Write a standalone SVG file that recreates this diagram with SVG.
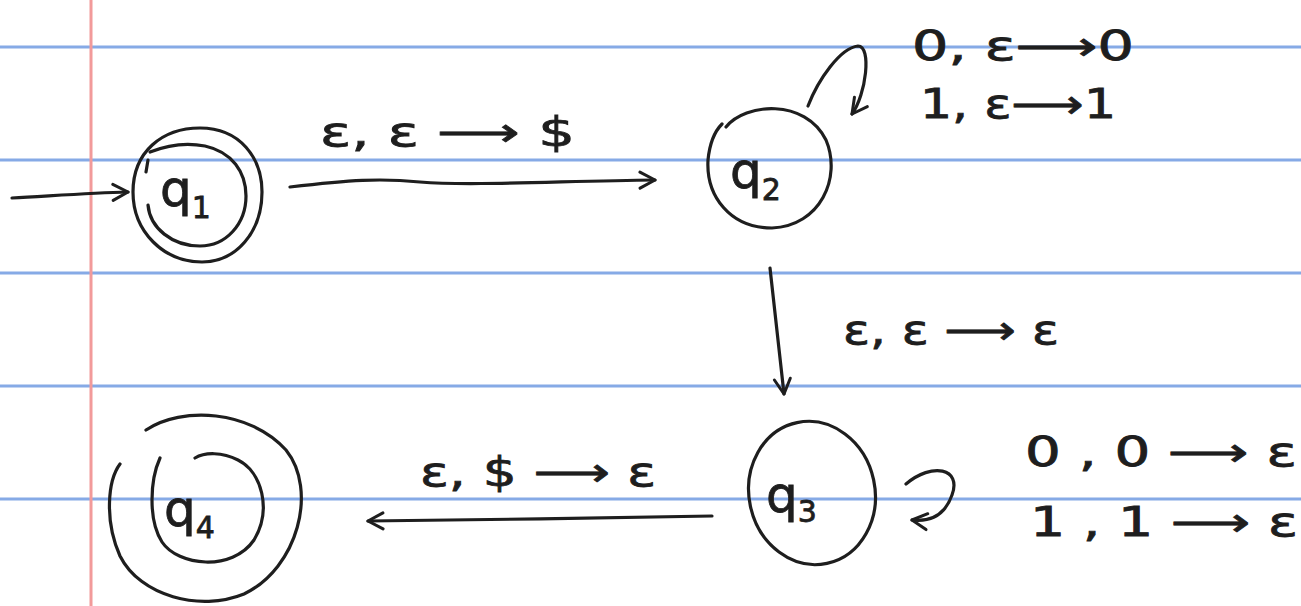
<svg xmlns="http://www.w3.org/2000/svg" width="1301" height="606" viewBox="0 0 1301 606">
<defs>
<marker id="ah" viewBox="0 0 20 20" refX="18" refY="10" markerWidth="20" markerHeight="20" markerUnits="userSpaceOnUse" orient="auto">
<path d="M3,2 L18,10 L3,18" fill="none" stroke="#1e1e1e" stroke-width="3" stroke-linecap="round" stroke-linejoin="round"/>
</marker>
<style>
.ink{fill:none;stroke:#1e1e1e;stroke-width:3.2;stroke-linecap:round;stroke-linejoin:round}
.rule{stroke:#86aae6;stroke-width:3}
.lbl{font-family:"DejaVu Sans","Liberation Sans",sans-serif;font-size:40px;fill:#1e1e1e;stroke:#1e1e1e;stroke-width:0.8}
.st{font-family:"DejaVu Sans","Liberation Sans",sans-serif;font-size:50px;fill:#1e1e1e;stroke:#1e1e1e;stroke-width:0.8}
.sub{font-size:30px}
</style>
</defs>
<rect width="1301" height="606" fill="#ffffff"/>
<g id="paper">
<line class="rule" x1="0" y1="47" x2="1301" y2="47"/>
<line class="rule" x1="0" y1="160" x2="1301" y2="160"/>
<line class="rule" x1="0" y1="273" x2="1301" y2="273"/>
<line class="rule" x1="0" y1="386" x2="1301" y2="386"/>
<line class="rule" x1="0" y1="499" x2="1301" y2="499"/>
<line x1="91" y1="0" x2="91" y2="606" stroke="#f29a9a" stroke-width="3"/>
</g>
<g id="q1">
<path class="ink" d="M200,128 C240,128 262,158 262,192 C262,232 236,262 202,262 C164,262 133,232 133,192 C133,152 162,128 200,128 Z"/>
<path class="ink" d="M146,172 L148,160 M150,152 C165,146 185,142 205,146 C232,152 246,172 246,196 C246,224 226,246 200,246 C172,246 150,228 148,205"/>
<text class="st" x="160" y="206">q<tspan class="sub" dy="12">1</tspan></text>
</g>
<g id="q2">
<path class="ink" d="M726,127 C745,103 805,98 826,140 C842,178 820,226 772,228 C730,228 706,196 708,160 C710,140 716,130 722,124"/>
<text class="st" x="730" y="188">q<tspan class="sub" dy="12">2</tspan></text>
</g>
<g id="q3">
<ellipse class="ink" cx="812" cy="493" rx="63" ry="72" transform="rotate(-12 812 493)"/>
<text class="st" x="766" y="512">q<tspan class="sub" dy="10">3</tspan></text>
</g>
<g id="q4">
<path class="ink" d="M146,430 C182,406 250,410 286,450 C318,490 298,568 244,594 C200,612 140,596 120,556 C104,520 108,480 120,464"/>
<path class="ink" d="M160,458 C150,480 148,520 162,542 C178,566 232,572 254,540 C272,510 262,472 238,460 C222,452 205,452 195,458"/>
<text class="st" x="164" y="526">q<tspan class="sub" dy="12">4</tspan></text>
</g>
<g id="connectors">
<path class="ink" d="M12,198 C50,196 90,193 128,192" marker-end="url(#ah)"/>
<path class="ink" d="M290,187 C350,180 380,178 420,182 C470,186 560,181 655,180" marker-end="url(#ah)"/>
<path class="ink" d="M808,106 C818,80 840,48 858,46 C872,46 866,95 852,114" marker-end="url(#ah)"/>
<path class="ink" d="M770,268 L784,394" marker-end="url(#ah)"/>
<path class="ink" d="M906,484 C932,462 962,468 952,495 C945,515 930,522 912,520" marker-end="url(#ah)"/>
<path class="ink" d="M712,516 C600,518 480,520 368,521" marker-end="url(#ah)"/>
</g>
<g id="labels">
<text class="lbl" x="320" y="146" textLength="255" lengthAdjust="spacingAndGlyphs">ε, ε ⟶ $</text>
<text class="lbl" x="912" y="60" textLength="222" lengthAdjust="spacingAndGlyphs">0, ε⟶0</text>
<text class="lbl" x="920" y="118" textLength="196" lengthAdjust="spacingAndGlyphs">1, ε⟶1</text>
<text class="lbl" x="843" y="344" textLength="216" lengthAdjust="spacingAndGlyphs">ε, ε ⟶ ε</text>
<text class="lbl" x="420" y="486" textLength="236" lengthAdjust="spacingAndGlyphs">ε, $ ⟶ ε</text>
<text class="lbl" x="1025" y="466" textLength="272" lengthAdjust="spacingAndGlyphs">0 , 0 ⟶ ε</text>
<text class="lbl" x="1030" y="536" textLength="268" lengthAdjust="spacingAndGlyphs">1 , 1 ⟶ ε</text>
</g>
</svg>
